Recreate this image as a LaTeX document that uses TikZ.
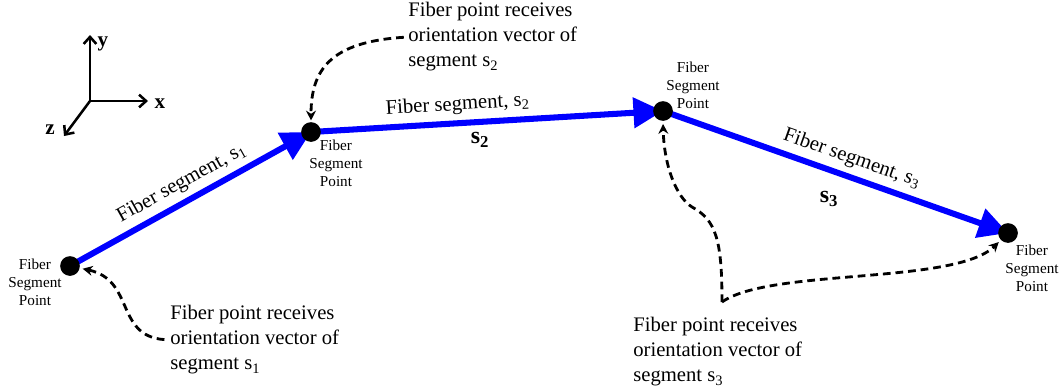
\documentclass[tikz,border=0pt]{standalone}
\usepackage{fontspec}
\setmainfont{Liberation Serif}
\usetikzlibrary{arrows.meta,positioning}

\begin{document}
\begin{tikzpicture}[x=0.025cm,y=-0.025cm,
  seg/.style={line width=4.3pt,blue,-{Triangle[length=21pt,width=21pt]}},
  dot/.style={circle,fill=black,inner sep=0pt,minimum size=14pt},
  ptlabel/.style={font=\fontsize{10.8}{12.8}\selectfont,align=center,inner sep=0pt},
  note/.style={font=\fontsize{14.7}{17.8}\selectfont,align=left,inner sep=0pt},
  seglabel/.style={font=\fontsize{14.7}{17.8}\selectfont,text=black,sloped,inner sep=4pt},
  bigs/.style={font=\fontsize{17}{20}\selectfont\bfseries,inner sep=0pt},
  hint/.style={line width=2pt,dash pattern=on 5.5pt off 3.5pt,-{Stealth[length=7pt,width=7pt]}},
  axis/.style={line width=1.8pt,-{Straight Barb[length=5pt,width=9pt]}},
  axlabel/.style={font=\fontsize{15}{18}\selectfont\bfseries,inner sep=0pt}]
\useasboundingbox (0,0) rectangle (1063,391);

% Coordinate axes
\coordinate (o) at (90,101);
\coordinate (ytip) at (90,35);
\coordinate (xtip) at (148,101);
\coordinate (ztip) at (64,136);
\draw[axis] (o) -- (ytip);
\draw[axis] (o) -- (xtip);
\draw[axis] (o) -- (ztip);
\node[axlabel] (ylab) at (103,44) {y};
\node[axlabel] (xlab) at (160,104) {x};
\node[axlabel] (zlab) at (50,130) {z};

% Fiber segments
\coordinate (c1) at (70,266);
\coordinate (c2) at (311,132);
\coordinate (c3) at (663,111);
\coordinate (c4) at (1008,233);
\draw[seg] (c1) -- (c2) node[seglabel,midway,above] {Fiber segment, s\textsubscript{1}};
\draw[seg] (c2) -- (c3) node[seglabel,pos=0.42,above] {Fiber segment, s\textsubscript{2}};
\draw[seg] (c3) -- (c4) node[seglabel,pos=0.53,above] {Fiber segment, s\textsubscript{3}};
\node[bigs] (s2) at (480,140) {s\textsubscript{2}};
\node[bigs] (s3) at (829,199) {s\textsubscript{3}};

% Fiber segment points
\node[dot] (p1) at (c1) {};
\node[dot] (p2) at (c2) {};
\node[dot] (p3) at (c3) {};
\node[dot] (p4) at (c4) {};
\node[ptlabel] (l1) at (35,282) {Fiber\\Segment\\Point};
\node[ptlabel] (l2) at (336,163) {Fiber\\Segment\\Point};
\node[ptlabel] (l3) at (693,85) {Fiber\\Segment\\Point};
\node[ptlabel] (l4) at (1032,268) {Fiber\\Segment\\Point};

% Notes
\node[note,anchor=west] (n1) at (170,340) {Fiber point receives\\orientation vector of\\segment s\textsubscript{1}};
\node[note,anchor=west] (n2) at (408,37) {Fiber point receives\\orientation vector of\\segment s\textsubscript{2}};
\node[note,anchor=west] (n3) at (633,352) {Fiber point receives\\orientation vector of\\segment s\textsubscript{3}};
\coordinate (fork) at (722,302);

% Dashed hints
\draw[hint,shorten <=4pt,shorten >=2pt] (n1.west) .. controls (115,336) and (135,280) .. (p1);
\draw[hint,shorten <=3pt,shorten >=1pt] (n2.west) .. controls (330,42) and (311,70) .. (p2.north);
\draw[hint,shorten >=2pt] (fork) .. controls (722,240) and (716,220) .. (692,207)
  .. controls (676,197) and (664,165) .. (p3.south);
\draw[hint,shorten >=2pt] (fork) .. controls (770,268) and (955,285) .. (p4);
\end{tikzpicture}
\end{document}
